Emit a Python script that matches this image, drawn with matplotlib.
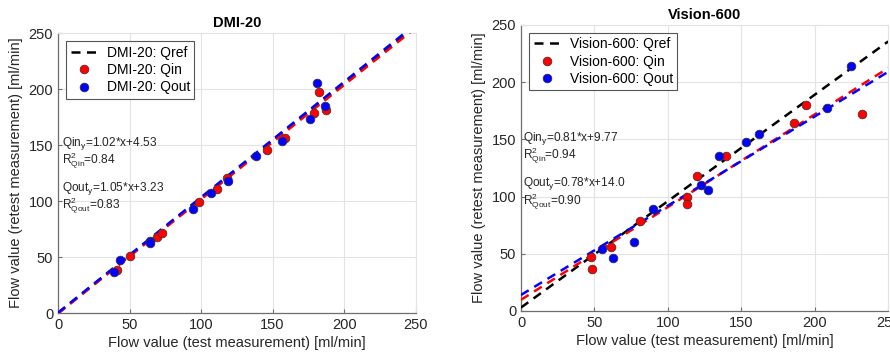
import matplotlib
matplotlib.use("Agg")
import matplotlib.pyplot as plt
import numpy as np

plt.rcParams['font.family'] = ['Liberation Sans', 'DejaVu Sans']
plt.rcParams['mathtext.fontset'] = 'custom'
plt.rcParams['mathtext.rm'] = 'Liberation Sans'
plt.rcParams['mathtext.it'] = 'Liberation Sans:italic'
plt.rcParams['mathtext.bf'] = 'Liberation Sans:bold'

# ---------------- data: DMI-20 ----------------
dmi_in_x = [41, 50, 69.5, 72.5, 98.8, 111, 118.4, 146.4, 159, 179, 182.5, 187.6]
dmi_in_y = [38.4, 50.9, 68, 71.7, 98.8, 110.7, 120.8, 145.3, 156, 178.8, 197, 181]
dmi_out_x = [39.2, 43.4, 64, 64.3, 94.6, 106.8, 118.7, 138.5, 156.6, 176.2, 180.9, 186.5]
dmi_out_y = [36.9, 47, 64, 62.2, 92.9, 106.9, 118, 140.2, 153.6, 173.5, 205, 184.8]
# line coefficients [slope, intercept] as drawn
dmi_ref = [1.025, 0.0]
dmi_fit_in = [1.02, -0.4]
dmi_fit_out = [1.03, 0.4]
dmi_txt = ["Qin$_{\\mathrm{y}}$=1.02*x+4.53", "R$^{2}_{\\mathrm{Qin}}$=0.84",
           "Qout$_{\\mathrm{y}}$=1.05*x+3.23", "R$^{2}_{\\mathrm{Qout}}$=0.83"]

# ---------------- data: Vision-600 ----------------
vis_in_x = [47.7, 48.6, 61.6, 80.7, 113, 113, 119.8, 139.8, 186, 193.7, 231.9]
vis_in_y = [47.2, 37.1, 55.7, 78.9, 99.4, 93.6, 117.7, 135, 164.3, 180.3, 172.4]
vis_out_x = [55, 62.3, 76.6, 90, 122.6, 127.3, 134.8, 153.5, 161.9, 208, 224.4]
vis_out_y = [54.2, 46.4, 60.3, 88.7, 110.4, 105.5, 135.4, 147.8, 155, 177, 213.9]
vis_ref = [0.93, 3.0]
vis_fit_in = [0.81, 9.77]
vis_fit_out = [0.78, 14.0]
vis_txt = ["Qin$_{\\mathrm{y}}$=0.81*x+9.77", "R$^{2}_{\\mathrm{Qin}}$=0.94",
           "Qout$_{\\mathrm{y}}$=0.78*x+14.0", "R$^{2}_{\\mathrm{Qout}}$=0.90"]

ticks = [0, 50, 100, 150, 200, 250]
txt_y = [151, 136, 111.6, 95.5]

fig = plt.figure(figsize=(8.9, 3.55), dpi=100)
ax1 = fig.add_axes([0.0652, 0.118, 0.4018, 0.789])
ax2 = fig.add_axes([0.5854, 0.124, 0.4126, 0.806])

dash = (0, (3.6, 2.6))

def draw(ax, name, in_x, in_y, out_x, out_y, ref, fin, fout, txts, tx, title):
    xs = np.array([0.0, 250.0])
    ax.plot(xs, fin[0] * xs + fin[1], color='red', lw=1.8, ls=dash, zorder=3)
    ax.plot(xs, fout[0] * xs + fout[1], color='blue', lw=1.8, ls=dash, zorder=3)
    ax.plot(xs, ref[0] * xs + ref[1], color='black', lw=1.8, ls=dash, zorder=2.9,
            label=name + ': Qref')
    ax.plot(in_x, in_y, 'o', color='red', mec='#333333', mew=0.5, ms=6.3,
            zorder=4, label=name + ': Qin')
    ax.plot(out_x, out_y, 'o', color='blue', mec='#333333', mew=0.5, ms=6.3,
            zorder=4, label=name + ': Qout')
    h, l = ax.get_legend_handles_labels()
    leg = ax.legend(h, l, loc='upper left', fontsize=10, fancybox=False,
                    framealpha=1, edgecolor='#555555', borderpad=0.3,
                    handlelength=2.0, labelspacing=0.25, borderaxespad=0.6,
                    handletextpad=0.6)
    leg.get_frame().set_linewidth(0.8)
    for t, y in zip(txts, txt_y):
        ax.text(tx, y, t, fontsize=8.6, va='center', ha='left', color='#262626')
    ax.set_xlim(0, 250)
    ax.set_ylim(0, 250)
    ax.set_xticks(ticks)
    ax.set_yticks(ticks)
    ax.grid(True, color='#e3e3e3', lw=0.8)
    ax.set_axisbelow(True)
    for s in ['top', 'right']:
        ax.spines[s].set_color('#e3e3e3')
    for s in ['left', 'bottom']:
        ax.spines[s].set_color('#6e6e6e')
        ax.spines[s].set_linewidth(0.9)
    ax.tick_params(direction='in', length=3, color='#6e6e6e', labelsize=10.5,
                   labelcolor='#262626', top=False, right=False)
    ax.set_xlabel('Flow value (test measurement) [ml/min]', fontsize=10.5,
                  color='#262626', labelpad=3)
    ax.set_ylabel('Flow value (retest measurement) [ml/min]', fontsize=10.5,
                  color='#262626', labelpad=4)
    ax.set_title(title, fontsize=10.5, fontweight='bold', pad=4)

draw(ax1, 'DMI-20', dmi_in_x, dmi_in_y, dmi_out_x, dmi_out_y,
     dmi_ref, dmi_fit_in, dmi_fit_out, dmi_txt, 2.5, 'DMI-20')
draw(ax2, 'Vision-600', vis_in_x, vis_in_y, vis_out_x, vis_out_y,
     vis_ref, vis_fit_in, vis_fit_out, vis_txt, 1.5, 'Vision-600')

fig.savefig('out.png', dpi=100)
